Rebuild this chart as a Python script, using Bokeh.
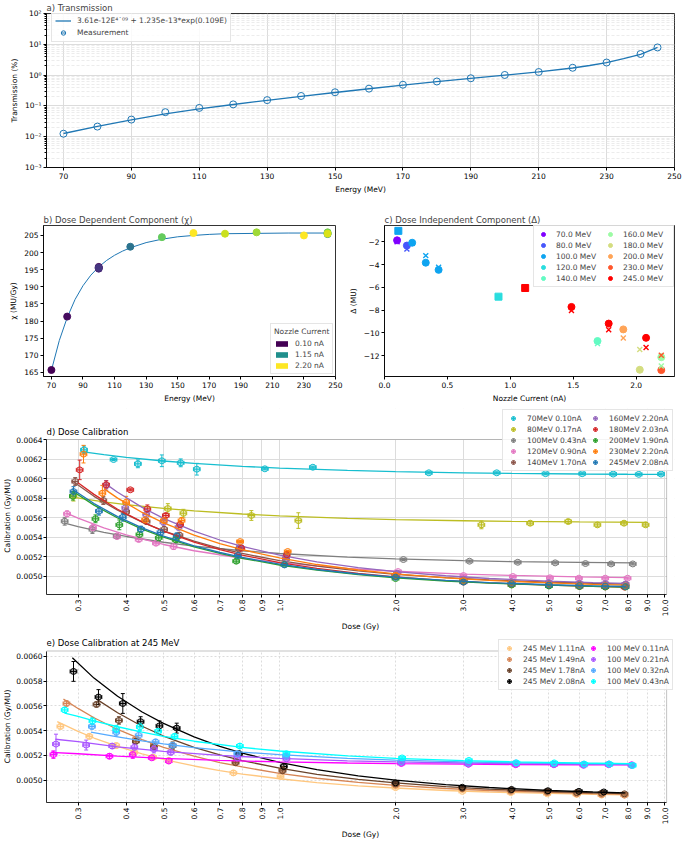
import math
from bokeh.plotting import figure
from bokeh.layouts import column, row
from bokeh.models import (ColumnDataSource, Legend, LegendItem, FixedTicker, PrintfTickFormatter,
                          CustomJSTickFormatter, Whisker, TeeHead, Range1d, BoxAnnotation, Label)
from bokeh.palettes import Viridis256
from bokeh.transform import linear_cmap
from bokeh.embed import file_html
from bokeh.resources import INLINE

NAN = float("nan")

# ---------------- data: panel a ----------------
a_energy = [70, 80, 90, 100, 110, 120, 130, 140, 150, 160, 170, 180, 190, 200, 210, 220, 230, 240, 245]
a_trans = [0.0125, 0.0213, 0.036, 0.0625, 0.086, 0.112, 0.154, 0.21, 0.277, 0.363, 0.487, 0.62, 0.79,
           1.01, 1.26, 1.73, 2.56, 4.84, 7.9]
a_fit_energy = [70, 80, 90, 100, 110, 120, 130, 140, 150, 160, 170, 180, 190, 200, 210, 220, 225, 230, 235, 240, 245]
a_fit_trans = [0.0127, 0.0215, 0.035, 0.0555, 0.080, 0.111, 0.152, 0.205, 0.272, 0.360, 0.470, 0.610, 0.780,
               1.00, 1.27, 1.70, 2.05, 2.55, 3.40, 4.70, 7.9]

# ---------------- data: panel b ----------------
b_energy = [70, 80, 100, 100, 100, 100, 120, 140, 160, 180, 200, 230, 245, 245, 245, 245]
b_chi = [165.7, 181.3, 195.8, 195.5, 195.3, 195.6, 201.7, 204.5, 205.7, 205.5, 205.9, 205.0, 205.4, 205.6, 205.9, 205.5]
b_current = [0.10, 0.17, 0.11, 0.21, 0.32, 0.43, 0.90, 1.70, 2.20, 2.03, 1.90, 2.20, 1.11, 1.49, 1.78, 2.08]
b_fit_energy = [70, 75, 80, 85, 90, 95, 100, 105, 110, 115, 120, 130, 140, 150, 160, 170, 180, 200, 220, 245]
b_fit_chi = [165.6, 174.3, 181.0, 186.3, 190.3, 193.4, 195.8, 197.7, 199.2, 200.4, 201.4, 202.9, 203.9, 204.6,
             205.0, 205.3, 205.5, 205.6, 205.7, 205.7]
b_legend_currents = [0.10, 1.15, 2.20]

# ---------------- data: panel c ----------------
c_energies = [70, 80, 100, 120, 140, 160, 180, 200, 230, 245]
c_circ_current = [0.10, 0.178, 0.22, 0.328, 0.43, 1.693, 1.486, 1.782, 1.898, 2.079, 2.029, 2.2, 2.2]
c_circ_delta = [-1.88, -2.34, -2.09, -3.84, -4.47, -10.71, -7.72, -9.18, -9.69, -10.43, -13.23, -12.13, -13.26]
c_circ_energy = [70, 80, 100, 100, 100, 140, 245, 245, 200, 245, 180, 160, 230]
c_x_current = [0.10, 0.178, 0.22, 0.328, 0.43, 1.693, 1.486, 1.782, 1.898, 2.079, 2.029, 2.2, 2.2]
c_x_delta = [-2.0, -2.65, -2.14, -3.22, -4.24, -10.94, -8.04, -9.72, -10.45, -11.28, -11.45, -11.96, -12.9]
c_x_energy = [70, 80, 100, 100, 100, 140, 245, 245, 200, 245, 180, 230, 160]
c_sq_current = [0.11, 0.906, 1.118]
c_sq_delta = [-1.05, -6.82, -6.06]
c_sq_energy = [100, 120, 245]

# ---------------- data: panel d ----------------
d_labels = ["70MeV 0.10nA", "80MeV 0.17nA", "100MeV 0.43nA", "120MeV 0.90nA", "140MeV 1.70nA",
            "160MeV 2.20nA", "180MeV 2.03nA", "200MeV 1.90nA", "230MeV 2.20nA", "245MeV 2.08nA"]

d70_dose = [0.311, 0.371, 0.429, 0.495, 0.554, 0.610, 0.916, 1.22, 2.44, 3.66, 4.90, 6.10, 7.34, 8.55, 9.77]
d70_cal = [0.006294, 0.006195, 0.006151, 0.006182, 0.006161, 0.006096, 0.006100, 0.006116, 0.006059, 0.006059,
           0.006050, 0.006050, 0.006046, 0.006043, 0.006046]
d70_err = [0.00004, 0.00001, 0.00004, 0.00006, 0.00004, 0.00006, 0.00001, 0.00001, 0.00001, 0.00001, 0.00001,
           0.00001, 0.00001, 0.00001, 0.00001]
d70_fit_dose = [0.31, 0.35, 0.4, 0.5, 0.6, 0.8, 1.0, 1.5, 2.0, 3.0, 4.0, 6.0, 8.0, 9.8]
d70_fit_cal = [0.006273, 0.006245, 0.006218, 0.006180, 0.006156, 0.006125, 0.006107, 0.006083, 0.006071,
               0.006059, 0.006053, 0.006047, 0.006044, 0.006042]

d80_dose = [0.292, 0.513, 0.563, 0.845, 1.119, 3.34, 4.47, 5.61, 6.68, 7.83, 8.91]
d80_cal = [0.005820, 0.005693, 0.005645, 0.005622, 0.005570, 0.005526, 0.005543, 0.005560, 0.005526, 0.005543, 0.005526]
d80_err = [0.00005, 0.00005, 0.00004, 0.00005, 0.00008, 0.00004, 0.00002, 0.00002, 0.00002, 0.00002, 0.00002]
d80_fit_dose = [0.29, 0.35, 0.4, 0.5, 0.6, 0.8, 1.0, 1.5, 2.0, 3.0, 4.0, 6.0, 9.0]
d80_fit_cal = [0.005810, 0.005762, 0.005734, 0.005695, 0.005669, 0.005637, 0.005618, 0.005593, 0.005580,
               0.005568, 0.005562, 0.005556, 0.005552]

d100_dose = [0.277, 0.327, 0.378, 2.096, 3.11, 4.15, 5.19, 6.22, 7.25, 8.25]
d100_cal = [0.005563, 0.005478, 0.005410, 0.005171, 0.005154, 0.005143, 0.005137, 0.005130, 0.005126, 0.005126]
d100_err = [0.00004, 0.00004, 0.00002, 0.00001, 0.00001, 0.00001, 0.00001, 0.00001, 0.00001, 0.00001]
d100_fit_dose = [0.277, 0.3, 0.35, 0.4, 0.5, 0.6, 0.8, 1.0, 1.5, 2.0, 3.0, 4.0, 6.0, 8.3]
d100_fit_cal = [0.005543, 0.005509, 0.005450, 0.005407, 0.005348, 0.005309, 0.005261, 0.005233, 0.005196,
                0.005177, 0.005159, 0.005150, 0.005141, 0.005136]

d120_dose = [0.281, 0.328, 0.379, 0.431, 0.478, 0.531, 2.03, 3.0, 4.03, 5.03, 5.98, 7.0, 8.0]
d120_cal = [0.005639, 0.005496, 0.005407, 0.005376, 0.005338, 0.005304, 0.005048, 0.005007, 0.004997, 0.004984,
            0.004980, 0.004980, 0.004980]
d120_err = [0.00003, 0.00003, 0.00002, 0.00002, 0.00002, 0.00003, 0.00001, 0.00001, 0.00001, 0.00001, 0.00001,
            0.00001, 0.00001]
d120_fit_dose = [0.28, 0.3, 0.35, 0.4, 0.5, 0.6, 0.8, 1.0, 1.5, 2.0, 3.0, 4.0, 6.0, 8.0]
d120_fit_cal = [0.005646, 0.005595, 0.005495, 0.005423, 0.005325, 0.005261, 0.005184, 0.005139, 0.005079,
                0.005051, 0.005022, 0.005008, 0.004993, 0.004986]

d140_dose = [0.295, 0.349, 0.400, 0.452, 0.502, 0.550, 0.785, 1.04, 2.0, 3.0, 4.0, 5.0, 6.0, 7.0, 7.9]
d140_cal = [0.005970, 0.005775, 0.005660, 0.005560, 0.005480, 0.005420, 0.005280, 0.005180, 0.005010, 0.004960,
            0.004935, 0.004925, 0.004920, 0.004915, 0.004915]
d140_err = [0.00004, 0.00004, 0.00003, 0.00003, 0.00003, 0.00003, 0.00001, 0.00001, 0.00001, 0.00001, 0.00001,
            0.00001, 0.00001, 0.00001, 0.00001]
d140_fit_dose = [0.29, 0.33, 0.38, 0.44, 0.5, 0.6, 0.7, 0.8, 1.0, 1.25, 1.6, 2.0, 2.7, 3.5, 5.0, 6.5, 7.9]
d140_fit_cal = [0.005975, 0.005818, 0.005676, 0.005554, 0.005464, 0.005359, 0.005286, 0.005233, 0.005160,
                0.005103, 0.005054, 0.005020, 0.004985, 0.004962, 0.004940, 0.004928, 0.004920]

d160_dose = [0.355, 0.398, 0.451, 0.500, 0.547, 0.790, 1.04, 2.02, 3.0, 4.0, 5.0, 6.0, 7.0, 7.9]
d160_cal = [0.005930, 0.005700, 0.005632, 0.005553, 0.005502, 0.005300, 0.005180, 0.005030, 0.004970, 0.004945,
            0.004935, 0.004928, 0.004925, 0.004920]
d160_err = [0.00005, 0.00004, 0.00003, 0.00003, 0.00003, 0.00001, 0.00001, 0.00001, 0.00001, 0.00001, 0.00001,
            0.00001, 0.00001, 0.00001]
d160_fit_dose = [0.36, 0.38, 0.44, 0.5, 0.6, 0.7, 0.8, 1.0, 1.25, 1.6, 2.0, 2.7, 3.5, 5.0, 6.5, 7.9]
d160_fit_cal = [0.005925, 0.005860, 0.005705, 0.005593, 0.005461, 0.005371, 0.005306, 0.005216, 0.005147,
                0.005088, 0.005047, 0.005005, 0.004977, 0.004950, 0.004935, 0.004927]

d180_dose = [0.303, 0.355, 0.410, 0.454, 0.507, 0.552, 0.796, 1.044, 2.0, 3.0, 4.0, 5.0, 6.0, 7.0, 7.86]
d180_cal = [0.006089, 0.005936, 0.005885, 0.005690, 0.005622, 0.005529, 0.005287, 0.005220, 0.005000, 0.004940,
            0.004915, 0.004905, 0.004895, 0.004890, 0.004888]
d180_err = [0.00010, 0.00004, 0.00001, 0.00004, 0.00002, 0.00003, 0.00001, 0.00001, 0.00001, 0.00001, 0.00001,
            0.00001, 0.00001, 0.00001, 0.00001]
d180_fit_dose = [0.30, 0.33, 0.38, 0.44, 0.5, 0.6, 0.7, 0.8, 1.0, 1.25, 1.6, 2.0, 2.7, 3.5, 5.0, 6.5, 7.9]
d180_fit_cal = [0.005958, 0.005838, 0.005686, 0.005556, 0.005461, 0.005350, 0.005273, 0.005217, 0.005140,
                0.005080, 0.005029, 0.004993, 0.004956, 0.004933, 0.004909, 0.004896, 0.004889]

d200_dose = [0.291, 0.333, 0.384, 0.433, 0.486, 0.538, 0.772, 1.03, 2.0, 3.0, 4.0, 5.0, 6.0, 7.0, 7.9]
d200_cal = [0.005820, 0.005588, 0.005526, 0.005427, 0.005393, 0.005373, 0.005154, 0.005120, 0.004976, 0.004945,
            0.004910, 0.004900, 0.004895, 0.004890, 0.004890]
d200_err = [0.00004, 0.00004, 0.00005, 0.00003, 0.00003, 0.00003, 0.00002, 0.00001, 0.00001, 0.00001, 0.00001,
            0.00001, 0.00001, 0.00001, 0.00001]
d200_fit_dose = [0.29, 0.33, 0.38, 0.44, 0.5, 0.6, 0.7, 0.8, 1.0, 1.25, 1.6, 2.0, 2.7, 3.5, 5.0, 6.5, 7.9]
d200_fit_cal = [0.005873, 0.005728, 0.005596, 0.005483, 0.005400, 0.005301, 0.005233, 0.005183, 0.005115,
                0.005062, 0.005016, 0.004984, 0.004951, 0.004930, 0.004908, 0.004897, 0.004890]

d230_dose = [0.310, 0.347, 0.400, 0.448, 0.501, 0.557, 0.790, 1.05, 2.0, 3.0, 4.0, 5.0, 6.0, 7.0, 7.9]
d230_cal = [0.006250, 0.005850, 0.005758, 0.005577, 0.005570, 0.005570, 0.005355, 0.005253, 0.005010, 0.004955,
            0.004930, 0.004915, 0.004910, 0.004905, 0.004900]
d230_err = [0.00009, 0.00008, 0.00006, 0.00003, 0.00002, 0.00003, 0.00001, 0.00001, 0.00001, 0.00001, 0.00001,
            0.00001, 0.00001, 0.00001, 0.00001]
d230_fit_dose = [0.35, 0.38, 0.44, 0.5, 0.6, 0.7, 0.8, 1.0, 1.25, 1.6, 2.0, 2.7, 3.5, 5.0, 6.5, 7.9]
d230_fit_cal = [0.005897, 0.005800, 0.005653, 0.005546, 0.005421, 0.005335, 0.005272, 0.005187, 0.005120,
                0.005064, 0.005024, 0.004983, 0.004957, 0.004931, 0.004917, 0.004909]

d245_dose = [0.292, 0.340, 0.392, 0.437, 0.491, 0.541, 0.780, 1.03, 2.0, 3.0, 4.0, 5.0, 6.0, 7.0, 7.9]
d245_cal = [0.005867, 0.005666, 0.005604, 0.005482, 0.005448, 0.005413, 0.005212, 0.005116, 0.004990, 0.004940,
            0.004925, 0.004910, 0.004905, 0.004900, 0.004895]
d245_err = [0.00005, 0.00004, 0.00004, 0.00003, 0.00003, 0.00003, 0.00001, 0.00001, 0.00001, 0.00001, 0.00001,
            0.00001, 0.00001, 0.00001, 0.00001]
d245_fit_dose = [0.29, 0.33, 0.38, 0.44, 0.5, 0.6, 0.7, 0.8, 1.0, 1.25, 1.6, 2.0, 2.7, 3.5, 5.0, 6.5, 7.9]
d245_fit_cal = [0.005891, 0.005744, 0.005611, 0.005496, 0.005411, 0.005312, 0.005243, 0.005192, 0.005123,
                0.005069, 0.005023, 0.004990, 0.004957, 0.004935, 0.004913, 0.004902, 0.004895]

# ---------------- data: panel e ----------------
e_labels = ["245 MeV 1.11nA", "245 MeV 1.49nA", "245 MeV 1.78nA", "245 MeV 2.08nA",
            "100 MeV 0.11nA", "100 MeV 0.21nA", "100 MeV 0.32nA", "100 MeV 0.43nA"]

e111_dose = [0.270, 0.321, 0.377, 0.420, 0.470, 0.516, 0.759, 1.006, 2.0, 2.98, 3.98, 4.95, 5.9, 6.85, 7.85]
e111_cal = [0.005434, 0.005354, 0.005280, 0.005225, 0.005185, 0.005160, 0.005059, 0.005031, 0.004940, 0.004910,
            0.004900, 0.004890, 0.004885, 0.004880, 0.004880]
e111_err = [0.00002, 0.00002, 0.00002, 0.00002, 0.00002, 0.00002, 0.00002, 0.00001, 0.00001, 0.00001, 0.00001,
            0.00001, 0.00001, 0.00001, 0.00001]
e111_fit_dose = [0.265, 0.3, 0.33, 0.38, 0.44, 0.5, 0.6, 0.7, 0.8, 1.0, 1.25, 1.6, 2.0, 2.7, 3.5, 5.0, 6.5, 7.85]
e111_fit_cal = [0.005473, 0.005394, 0.005341, 0.005273, 0.005213, 0.005168, 0.005115, 0.005078, 0.005050,
                0.005012, 0.004981, 0.004955, 0.004937, 0.004917, 0.004905, 0.004893, 0.004886, 0.004882]

e149_dose = [0.280, 0.424, 0.472, 0.769, 1.018, 2.0, 2.98, 3.98, 4.95, 5.9, 6.85, 7.85]
e149_cal = [0.005620, 0.005330, 0.005285, 0.005150, 0.005085, 0.004960, 0.004930, 0.004910, 0.004900, 0.004890,
            0.004885, 0.004880]
e149_err = [0.00002, 0.00002, 0.00002, 0.00002, 0.00002, 0.00001, 0.00001, 0.00001, 0.00001, 0.00001, 0.00001,
            0.00001]
e149_fit_dose = [0.275, 0.3, 0.33, 0.38, 0.44, 0.5, 0.6, 0.7, 0.8, 1.0, 1.25, 1.6, 2.0, 2.7, 3.5, 5.0, 6.5, 7.85]
e149_fit_cal = [0.005655, 0.005580, 0.005505, 0.005410, 0.005328, 0.005266, 0.005194, 0.005143, 0.005107,
                0.005056, 0.005016, 0.004982, 0.004958, 0.004933, 0.004917, 0.004901, 0.004892, 0.004888]

e178_dose = [0.335, 0.383, 0.424, 0.472, 0.528, 0.769, 1.018, 2.0, 2.98, 3.98, 4.95, 5.9, 6.85, 7.85]
e178_cal = [0.005612, 0.005483, 0.005315, 0.005271, 0.005279, 0.005142, 0.005077, 0.004970, 0.004935, 0.004920,
            0.004910, 0.004900, 0.004895, 0.004890]
e178_err = [0.00002, 0.00003, 0.00002, 0.00002, 0.00003, 0.00002, 0.00002, 0.00001, 0.00001, 0.00001, 0.00001,
            0.00001, 0.00001, 0.00001]
e178_fit_dose = [0.335, 0.38, 0.44, 0.5, 0.6, 0.7, 0.8, 1.0, 1.25, 1.6, 2.0, 2.7, 3.5, 5.0, 6.5, 7.85]
e178_fit_cal = [0.005655, 0.005545, 0.005436, 0.005357, 0.005266, 0.005204, 0.005159, 0.005097, 0.005048,
                0.005007, 0.004978, 0.004948, 0.004928, 0.004909, 0.004898, 0.004892]

e208_dose = [0.292, 0.339, 0.392, 0.436, 0.488, 0.541, 0.785, 1.026, 2.0, 2.98, 4.0, 4.97, 5.98, 6.94]
e208_cal = [0.005879, 0.005672, 0.005620, 0.005473, 0.005439, 0.005421, 0.005214, 0.005111, 0.004979, 0.004943,
            0.004925, 0.004915, 0.004910, 0.004905]
e208_err = [0.00008, 0.00006, 0.00008, 0.00004, 0.00004, 0.00004, 0.00002, 0.00002, 0.00001, 0.00001, 0.00001,
            0.00001, 0.00001, 0.00001]
e208_fit_dose = [0.29, 0.33, 0.38, 0.44, 0.5, 0.6, 0.7, 0.8, 1.0, 1.25, 1.6, 2.0, 2.7, 3.5, 5.0, 6.5, 7.9]
e208_fit_cal = [0.005989, 0.005825, 0.005678, 0.005551, 0.005459, 0.005350, 0.005274, 0.005219, 0.005144,
                0.005085, 0.005035, 0.005000, 0.004964, 0.004941, 0.004917, 0.004905, 0.004898]

e011_dose = [0.259, 0.362, 0.416, 0.466, 0.516, 2.07, 3.09, 4.1, 5.15, 6.15, 7.15, 8.2]
e011_cal = [0.005207, 0.005194, 0.005207, 0.005181, 0.005155, 0.005135, 0.005130, 0.005125, 0.005125, 0.005125,
            0.005125, 0.005125]
e011_err = [0.00003, 0.00002, 0.00003, 0.00001, 0.00002, 0.00001, 0.00001, 0.00001, 0.00001, 0.00001, 0.00001, 0.00001]
e011_fit_dose = [0.255, 0.3, 0.38, 0.5, 0.7, 1.0, 1.5, 2.0, 3.0, 4.0, 6.0, 8.2]
e011_fit_cal = [0.005225, 0.005214, 0.005194, 0.005176, 0.005160, 0.005148, 0.005139, 0.005134, 0.005130,
                0.005127, 0.005125, 0.005124]

e021_dose = [0.263, 0.315, 0.368, 0.420, 0.472, 0.522, 0.777, 1.042, 2.07, 3.09, 4.1, 5.15, 6.15, 7.15, 8.2]
e021_cal = [0.005292, 0.005284, 0.005276, 0.005266, 0.005251, 0.005225, 0.005181, 0.005173, 0.005140, 0.005130,
            0.005130, 0.005130, 0.005120, 0.005130, 0.005120]
e021_err = [0.00008, 0.00004, 0.00002, 0.00003, 0.00003, 0.00002, 0.00001, 0.00001, 0.00001, 0.00001, 0.00001,
            0.00001, 0.00001, 0.00001, 0.00001]
e021_fit_dose = [0.262, 0.3, 0.38, 0.5, 0.7, 1.0, 1.5, 2.0, 3.0, 4.0, 6.0, 8.2]
e021_fit_cal = [0.005331, 0.005311, 0.005270, 0.005233, 0.005200, 0.005176, 0.005157, 0.005148, 0.005139,
                0.005134, 0.005130, 0.005127]

e032_dose = [0.326, 0.377, 0.431, 0.477, 0.528, 0.777, 1.040, 2.07, 3.09, 4.1, 5.15, 6.15, 7.15, 8.2]
e032_cal = [0.005434, 0.005388, 0.005362, 0.005310, 0.005282, 0.005214, 0.005194, 0.005150, 0.005140, 0.005140,
            0.005130, 0.005130, 0.005130, 0.005120]
e032_err = [0.00002, 0.00003, 0.00003, 0.00002, 0.00002, 0.00001, 0.00001, 0.00001, 0.00001, 0.00001, 0.00001,
            0.00001, 0.00001, 0.00001]
e032_fit_dose = [0.324, 0.38, 0.44, 0.5, 0.6, 0.8, 1.0, 1.5, 2.0, 3.0, 4.0, 6.0, 8.2]
e032_fit_cal = [0.005388, 0.005351, 0.005318, 0.005294, 0.005264, 0.005227, 0.005206, 0.005177, 0.005163,
                0.005149, 0.005141, 0.005134, 0.005131]

e043_dose = [0.277, 0.327, 0.377, 0.434, 0.484, 0.534, 0.789, 1.042, 2.08, 3.10, 4.12, 5.16, 6.18, 7.18, 8.25]
e043_cal = [0.005568, 0.005478, 0.005413, 0.005431, 0.005395, 0.005354, 0.005276, 0.005214, 0.005180, 0.005160,
            0.005140, 0.005140, 0.005130, 0.005130, 0.005120]
e043_err = [0.00002, 0.00003, 0.00003, 0.00003, 0.00002, 0.00002, 0.00002, 0.00001, 0.00001, 0.00001, 0.00001,
            0.00001, 0.00001, 0.00001, 0.00001]
e043_fit_dose = [0.277, 0.3, 0.33, 0.38, 0.44, 0.5, 0.6, 0.8, 1.0, 1.5, 2.0, 3.0, 4.0, 6.0, 8.2]
e043_fit_cal = [0.005543, 0.005516, 0.005480, 0.005432, 0.005388, 0.005355, 0.005315, 0.005265, 0.005236,
                0.005197, 0.005177, 0.005158, 0.005149, 0.005139, 0.005134]

DOSE_REL_ERR = 0.02   # relative horizontal (dose) uncertainty

# ---------------- styling ----------------
FONT = "DejaVu Sans"
TICK_FS = "7.5px"
LABEL_FS = "7.5px"
TITLE_FS = "8.5px"
GRID = "#dcdcdc"
NBSP = "\u00a0"

D_COLORS = ["#17becf", "#bcbd22", "#7f7f7f", "#e377c2", "#8c564b", "#9467bd", "#d62728", "#2ca02c", "#ff7f0e", "#1f77b4"]
E_COLORS = ["#ffc77f", "#d68555", "#69422a", "#000000", "#ff00ff", "#aa55ff", "#55aaff", "#00ffff"]
C_COLORS = {70: "#8000ff", 80: "#4757fb", 100: "#0ea4f0", 120: "#2addde", 140: "#63fbc3",
            160: "#9cfba4", 180: "#d4dd80", 200: "#ffa457", 230: "#ff572c", 245: "#ff0000"}


def base_fig(width, height, left, right, top, bottom, title, xlabel, ylabel, **kw):
    p = figure(width=width, height=height, min_border_left=left, min_border_right=right,
               min_border_top=top, min_border_bottom=bottom, output_backend="svg",
               toolbar_location=None, title=title, **kw)
    p.outline_line_color = "black"
    p.outline_line_width = 0.8
    if p.title is not None:
        p.title.text_font = FONT
        p.title.text_font_size = TITLE_FS
        p.title.text_font_style = "normal"
        p.title.align = "left"
        p.title.standoff = 1
        p.title.offset = 0
    p.xaxis.axis_label = xlabel
    p.yaxis.axis_label = ylabel
    for ax in p.axis:
        ax.axis_line_color = "black"
        ax.axis_line_width = 0.8
        ax.major_tick_line_color = "black"
        ax.major_tick_in = 0
        ax.major_tick_out = 3
        ax.minor_tick_in = 0
        ax.minor_tick_out = 0
        ax.major_label_text_font = FONT
        ax.major_label_text_font_size = TICK_FS
        ax.major_label_text_color = "black"
        ax.axis_label_text_font = FONT
        ax.axis_label_text_font_size = LABEL_FS
        ax.axis_label_text_font_style = "normal"
        ax.axis_label_text_color = "black"
        ax.major_label_standoff = 2
        ax.axis_label_standoff = 3
    p.xgrid.grid_line_color = None
    p.ygrid.grid_line_color = None
    return p


def style_legend(lg, glyph_w=14, standoff=5, label_w=20, padding=3):
    lg.label_text_font = FONT
    lg.label_text_font_size = "7.5px"
    lg.glyph_height = 10
    lg.glyph_width = glyph_w
    lg.label_height = 10
    lg.label_width = label_w
    lg.spacing = 1
    lg.padding = padding
    lg.margin = 0
    lg.label_standoff = standoff
    lg.border_line_color = "#cccccc"
    lg.border_line_width = 1
    lg.background_fill_alpha = 0.85


# ---------------- panel a ----------------
pa = base_fig(684, 196, 42, 10, 11, 28, "a) Transmission", "Energy (MeV)", "Transmission (%)",
              x_range=Range1d(65, 250), y_range=Range1d(1e-3, 1e2), y_axis_type="log")
pa.xaxis.ticker = FixedTicker(ticks=list(range(70, 251, 20)))
decades = [1e-3, 1e-2, 1e-1, 1e0, 1e1, 1e2]
pa.yaxis.ticker = FixedTicker(ticks=decades, minor_ticks=[m * d for d in decades[:-1] for m in range(2, 10)])
pa.yaxis.formatter = CustomJSTickFormatter(code="""
const e = Math.round(Math.log10(tick));
const m = {'-':'⁻','0':'⁰','1':'¹','2':'²','3':'³','4':'⁴','5':'⁵','6':'⁶','7':'⁷','8':'⁸','9':'⁹'};
return '10' + String(e).split('').map(c => m[c]).join('');
""")
pa.yaxis.minor_tick_out = 2
pa.xgrid.grid_line_color = GRID
pa.ygrid.grid_line_color = GRID
pa.ygrid.minor_grid_line_color = "#e4e4e4"
pa.ygrid.minor_grid_line_dash = "3 2"
pa.ygrid.minor_grid_line_width = 0.7
fit_a = pa.line(a_fit_energy, a_fit_trans, line_color="#1f77b4", line_width=1.3)
pa.scatter(a_energy, a_trans, marker="circle", size=7, line_color="#1f77b4", fill_color=None, line_width=1)
leg_c = pa.scatter(x=[NAN], y=[NAN], marker="circle", size=7, line_color="#1f77b4", fill_color=None, line_width=1)
leg_b = pa.scatter(x=[NAN], y=[NAN], marker="dash", angle=math.pi / 2, size=10, line_color="#1f77b4", line_width=1)
lga = Legend(items=[LegendItem(label="3.61e-12E⁴˙⁰⁹ + 1.235e-13*exp(0.109E)", renderers=[fit_a]),
                    LegendItem(label="Measurement", renderers=[leg_c, leg_b])], location=(5, 125))
style_legend(lga, glyph_w=16, standoff=6)
lga.glyph_height = 11
lga.label_height = 11
pa.add_layout(lga)

# ---------------- panel b ----------------
pb = base_fig(345, 209, 43, 10, 29, 24, "b) Dose Dependent Component (χ)", "Energy (MeV)", "χ (MU/Gy)",
              x_range=Range1d(65, 250), y_range=Range1d(163.8, 207.9))
pb.xaxis.ticker = FixedTicker(ticks=list(range(70, 251, 20)))
pb.yaxis.ticker = FixedTicker(ticks=list(range(165, 206, 5)))
pb.line(b_fit_energy, b_fit_chi, line_color="#1f77b4", line_width=1)
src_b = ColumnDataSource(dict(x=b_energy, y=b_chi, c=b_current))
cmap = linear_cmap("c", Viridis256, 0.1, 2.2)
pb.scatter("x", "y", source=src_b, marker="circle", size=7, fill_color=cmap, line_color=cmap)
b_items = []
for cur in b_legend_currents:
    idx = int(round((cur - 0.1) / (2.2 - 0.1) * 255))
    r = pb.quad(left=[NAN], right=[NAN], top=[NAN], bottom=[NAN], fill_color=Viridis256[idx], line_color=None)
    b_items.append(LegendItem(label="%.2f nA" % cur, renderers=[r]))
lgb = Legend(items=b_items, location=(227, 2), title="Nozzle Current")
style_legend(lgb, glyph_w=15, standoff=6)
lgb.glyph_height = 7
lgb.title_text_font = FONT
lgb.title_text_font_size = "7.5px"
lgb.title_text_font_style = "normal"
lgb.title_standoff = 2
pb.add_layout(lgb)

# ---------------- panel c ----------------
pc = base_fig(339, 209, 37, 10, 29, 24, "c) Dose Independent Component (Δ)", "Nozzle Current (nA)", "Δ (MU)",
              x_range=Range1d(0, 2.305), y_range=Range1d(-13.82, -0.58))
pc.xaxis.ticker = FixedTicker(ticks=[0.0, 0.5, 1.0, 1.5, 2.0])
pc.xaxis.formatter = PrintfTickFormatter(format="%.1f")
pc.yaxis.ticker = FixedTicker(ticks=[-12, -10, -8, -6, -4, -2])
pc.yaxis.formatter = CustomJSTickFormatter(code="return String(Math.round(tick)).replace('-', '\u2212');")
pc.scatter(c_circ_current, c_circ_delta, marker="circle", size=7,
           color=[C_COLORS[e] for e in c_circ_energy])
pc.scatter(c_x_current, c_x_delta, marker="x", size=7, line_width=1.4,
           color=[C_COLORS[e] for e in c_x_energy])
pc.scatter(c_sq_current, c_sq_delta, marker="square", size=7,
           color=[C_COLORS[e] for e in c_sq_energy])
c_items = []
for e in c_energies:
    r = pc.scatter(x=[NAN], y=[NAN], marker="circle", size=7, color=C_COLORS[e])
    c_items.append(LegendItem(label="%.1f MeV" % e, renderers=[r]))
lgc = Legend(items=c_items, location="top_right", ncols=2)
style_legend(lgc, glyph_w=12, standoff=7, label_w=47, padding=3)
pc.add_layout(lgc)


# ---------------- panels d, e ----------------
def add_series(p, dose, cal, err, fit_d, fit_c, color):
    src = ColumnDataSource(dict(
        x=dose, y=cal,
        lo=[c - e for c, e in zip(cal, err)], hi=[c + e for c, e in zip(cal, err)],
        xl=[d * (1 - DOSE_REL_ERR) for d in dose], xh=[d * (1 + DOSE_REL_ERR) for d in dose]))
    p.add_layout(Whisker(source=src, base="x", lower="lo", upper="hi", dimension="height",
                         line_color=color, line_width=1,
                         upper_head=TeeHead(size=4, line_color=color, line_width=1),
                         lower_head=TeeHead(size=4, line_color=color, line_width=1)))
    p.add_layout(Whisker(source=src, base="y", lower="xl", upper="xh", dimension="width",
                         line_color=color, line_width=1,
                         upper_head=TeeHead(size=4, line_color=color, line_width=1),
                         lower_head=TeeHead(size=4, line_color=color, line_width=1)))
    p.scatter("x", "y", source=src, marker="circle", size=6, line_color=color, fill_color=color,
              fill_alpha=0.3, line_width=1)
    p.line(fit_d, fit_c, line_color=color, line_width=1.3)
    return p.scatter(x=[NAN], y=[NAN], marker="circle_cross", size=8, line_color=color, fill_color=color,
                     fill_alpha=0.3, line_width=1)


DOSE_TICKS = [0.3, 0.4, 0.5, 0.6, 0.7, 0.8, 0.9, 1.0, 2.0, 3.0, 4.0, 5.0, 6.0, 7.0, 8.0, 9.0, 10.0]
DOSE_MIN, DOSE_MAX = 0.2485, 10.1


def dose_fig(height, top, bottom, ymin, ymax, yext, title, yticks, grid_dash, ylabel_pad):
    # the frame is extended above / right of the visible axes box so the legend can overlap the box edges
    p = base_fig(684, height, 42, 2, top, bottom, None, "Dose (Gy)",
                 "Calibration (Gy/MU)" + NBSP * ylabel_pad,
                 x_range=Range1d(DOSE_MIN, 10.586), y_range=Range1d(ymin, yext), x_axis_type="log")
    p.outline_line_color = None
    p.xaxis.bounds = (DOSE_MIN, DOSE_MAX)
    p.yaxis.bounds = (ymin, ymax)
    p.yaxis.major_label_standoff = 1
    p.yaxis.axis_label_standoff = 1
    p.xaxis.ticker = FixedTicker(ticks=DOSE_TICKS, minor_ticks=[])
    p.xaxis.formatter = PrintfTickFormatter(format="%.1f")
    p.xaxis.major_label_orientation = math.pi / 2
    p.yaxis.ticker = FixedTicker(ticks=yticks)
    p.yaxis.formatter = PrintfTickFormatter(format="%.4f")
    p.xgrid.grid_line_color = GRID
    p.ygrid.grid_line_color = GRID
    p.xgrid.grid_line_dash = grid_dash
    p.ygrid.grid_line_dash = grid_dash
    p.add_layout(BoxAnnotation(left=0.1, right=20, bottom=ymax, top=1, fill_color="white", fill_alpha=1,
                               line_alpha=0, level="underlay"))
    p.add_layout(BoxAnnotation(left=DOSE_MAX, right=20, bottom=0, top=1, fill_color="white", fill_alpha=1,
                               line_alpha=0, level="underlay"))
    p.add_layout(Label(x=DOSE_MIN, y=ymax, y_offset=3, text=title, text_font=FONT, text_font_size=TITLE_FS,
                       text_baseline="bottom", text_align="left", text_color="black"))
    return p


def frame_box(p, ymin, ymax):
    p.add_layout(BoxAnnotation(left=DOSE_MIN, right=DOSE_MAX, bottom=ymin, top=ymax, fill_alpha=0,
                               line_color="black", line_width=0.8))


D_YMIN, D_YMAX = 0.004813, 0.0064
pd_ = dose_fig(233, 3, 44, D_YMIN, D_YMAX, 0.0067174, "d) Dose Calibration",
               [0.0050, 0.0052, 0.0054, 0.0056, 0.0058, 0.0060, 0.0062, 0.0064], "solid", 12)
d_series = [
    (d70_dose, d70_cal, d70_err, d70_fit_dose, d70_fit_cal),
    (d80_dose, d80_cal, d80_err, d80_fit_dose, d80_fit_cal),
    (d100_dose, d100_cal, d100_err, d100_fit_dose, d100_fit_cal),
    (d120_dose, d120_cal, d120_err, d120_fit_dose, d120_fit_cal),
    (d140_dose, d140_cal, d140_err, d140_fit_dose, d140_fit_cal),
    (d160_dose, d160_cal, d160_err, d160_fit_dose, d160_fit_cal),
    (d180_dose, d180_cal, d180_err, d180_fit_dose, d180_fit_cal),
    (d200_dose, d200_cal, d200_err, d200_fit_dose, d200_fit_cal),
    (d230_dose, d230_cal, d230_err, d230_fit_dose, d230_fit_cal),
    (d245_dose, d245_cal, d245_err, d245_fit_dose, d245_fit_cal),
]
d_items = []
for (s, col, lab) in zip(d_series, D_COLORS, d_labels):
    r = add_series(pd_, *s, col)
    d_items.append(LegendItem(label=lab, renderers=[r]))
frame_box(pd_, D_YMIN, D_YMAX)
lgd = Legend(items=d_items, location="top_right", ncols=2)
style_legend(lgd, glyph_w=14, standoff=7, label_w=60)
lgd.margin = 1
pd_.add_layout(lgd)

E_YMIN, E_YMAX = 0.00482, 0.006044
pe = dose_fig(204, 0, 33, E_YMIN, E_YMAX, 0.006145, "e) Dose Calibration at 245 MeV",
              [0.0050, 0.0052, 0.0054, 0.0056, 0.0058, 0.0060], "2 2", 5)
e_series = [
    (e111_dose, e111_cal, e111_err, e111_fit_dose, e111_fit_cal),
    (e149_dose, e149_cal, e149_err, e149_fit_dose, e149_fit_cal),
    (e178_dose, e178_cal, e178_err, e178_fit_dose, e178_fit_cal),
    (e208_dose, e208_cal, e208_err, e208_fit_dose, e208_fit_cal),
    (e011_dose, e011_cal, e011_err, e011_fit_dose, e011_fit_cal),
    (e021_dose, e021_cal, e021_err, e021_fit_dose, e021_fit_cal),
    (e032_dose, e032_cal, e032_err, e032_fit_dose, e032_fit_cal),
    (e043_dose, e043_cal, e043_err, e043_fit_dose, e043_fit_cal),
]
e_items = []
for (s, col, lab) in zip(e_series, E_COLORS, e_labels):
    r = add_series(pe, *s, col)
    e_items.append(LegendItem(label=lab, renderers=[r]))
frame_box(pe, E_YMIN, E_YMAX)
lge = Legend(items=e_items, location="top_right", ncols=2)
style_legend(lge, glyph_w=14, standoff=7, label_w=62)
lge.margin = 1
pe.add_layout(lge)

layout = column(pa, row(pb, pc), pd_, pe)
open("out.html", "w").write(file_html(layout, INLINE))
